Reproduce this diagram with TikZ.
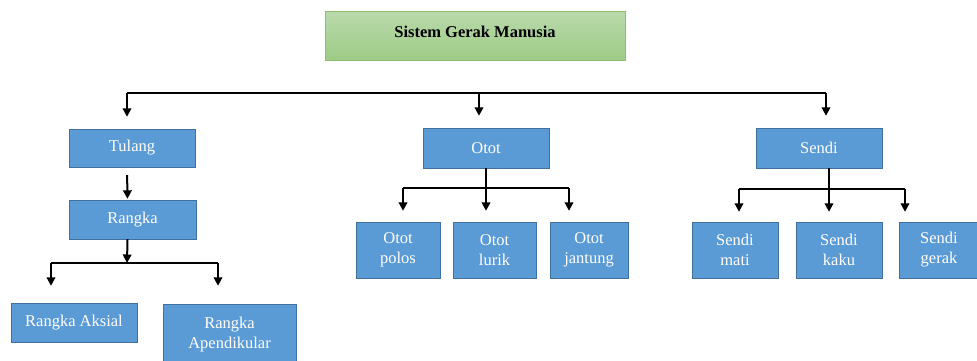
\documentclass[tikz,border=0pt]{standalone}
\usepackage{fontspec}
\setmainfont{Liberation Serif}
\definecolor{boxblue}{HTML}{5B9BD5}
\definecolor{boxedge}{HTML}{41719C}
\definecolor{greentop}{HTML}{B9D9AA}
\definecolor{greenbot}{HTML}{9DCB86}
\definecolor{greenedge}{HTML}{8CC06C}
\usepackage{tikz}
\usetikzlibrary{arrows.meta, positioning, calc}

\begin{document}
\begin{tikzpicture}[x=1pt, y=-1pt,
    kotak/.style={draw=boxedge, fill=boxblue, text=white, align=center, inner sep=2pt, font=\fontsize{16.5}{20}\selectfont},
    panah/.style={-{Triangle[width=8.5pt, length=8.5pt]}, line width=2pt},
    garis/.style={line width=1.7pt}]
  \useasboundingbox (0,0) rectangle (977,361);

  % Judul
  \node[draw=greenedge, top color=greentop, bottom color=greenbot, line width=1pt, minimum width=300pt, minimum height=49pt, text depth=10pt, font=\fontsize{16.5}{20}\selectfont\bfseries] (judul) at (475,36.5) {Sistem Gerak Manusia};

  % Tingkat kedua
  \node[kotak, minimum width=126pt, minimum height=38pt] (tulang) at (132,148) {Tulang};
  \node[kotak, minimum width=126pt, minimum height=40pt] (otot) at (486,148) {Otot};
  \node[kotak, minimum width=126pt, minimum height=40pt] (sendi) at (819,148) {Sendi};

  \coordinate (bus1) at (127,93);
  \coordinate (bus2) at (479,93);
  \coordinate (bus3) at (826,93);
  \draw[garis] (bus1) -- (bus3);
  \draw[panah, shorten >=12pt] (bus1) -- (bus1 |- tulang.north);
  \draw[panah, shorten >=12pt] (bus2) -- (bus2 |- otot.north);
  \draw[panah, shorten >=12pt] (bus3) -- (bus3 |- sendi.north);

  % Cabang tulang
  \node[kotak, minimum width=127pt, minimum height=39pt] (rangka) at (132.5,219.5) {Rangka};
  \node[kotak, minimum width=126pt, minimum height=39pt] (aksial) at (74,322.5) {Rangka Aksial};
  \node[kotak, minimum width=133pt, minimum height=62pt] (apendik) at (229.5,335) {Rangka\\Apendikular};

  \draw[panah, shorten <=8pt, shorten >=1pt] ([xshift=-5pt]tulang.south) -- ([xshift=-5pt]rangka.north);
  \coordinate (rb0) at (127,263);
  \coordinate (rb1) at (51,263);
  \coordinate (rb2) at (218,263);
  \draw[panah] ([xshift=-5pt]rangka.south) -- (rb0);
  \draw[garis] (rb1) -- (rb2);
  \draw[panah, shorten >=17pt] (rb1) -- (rb1 |- aksial.north);
  \draw[panah, shorten >=18pt] (rb2) -- (rb2 |- apendik.north);

  % Cabang otot
  \node[kotak, minimum width=84pt, minimum height=56pt] (polos) at (398,250) {Otot\\polos};
  \node[kotak, minimum width=83pt, minimum height=56pt] (lurik) at (494.5,250) {Otot\\lurik};
  \node[kotak, minimum width=78pt, minimum height=56pt] (jantung) at (589,250) {Otot\\jantung};

  \coordinate (ob1) at (403,188);
  \coordinate (ob2) at (486,188);
  \coordinate (ob3) at (569,188);
  \draw[garis] (otot.south) -- (ob2);
  \draw[garis] (ob1) -- (ob3);
  \draw[panah, shorten >=11pt] (ob1) -- (ob1 |- polos.north);
  \draw[panah, shorten >=11pt] (ob2) -- (ob2 |- lurik.north);
  \draw[panah, shorten >=11pt] (ob3) -- (ob3 |- jantung.north);

  % Cabang sendi
  \node[kotak, minimum width=86pt, minimum height=56pt] (mati) at (735,250) {Sendi\\mati};
  \node[kotak, minimum width=86pt, minimum height=56pt] (kaku) at (839,250) {Sendi\\kaku};
  \node[kotak, minimum width=80pt, minimum height=56pt] (gerak) at (939,250) {Sendi\\gerak};

  \coordinate (sb1) at (739,189);
  \coordinate (sb2) at (829,189);
  \coordinate (sb3) at (905,189);
  \draw[garis] ([xshift=10pt]sendi.south) -- (sb2);
  \draw[garis] (sb1) -- (sb3);
  \draw[panah, shorten >=10pt] (sb1) -- (sb1 |- mati.north);
  \draw[panah, shorten >=10pt] (sb2) -- (sb2 |- kaku.north);
  \draw[panah, shorten >=10pt] (sb3) -- (sb3 |- gerak.north);
\end{tikzpicture}
\end{document}
